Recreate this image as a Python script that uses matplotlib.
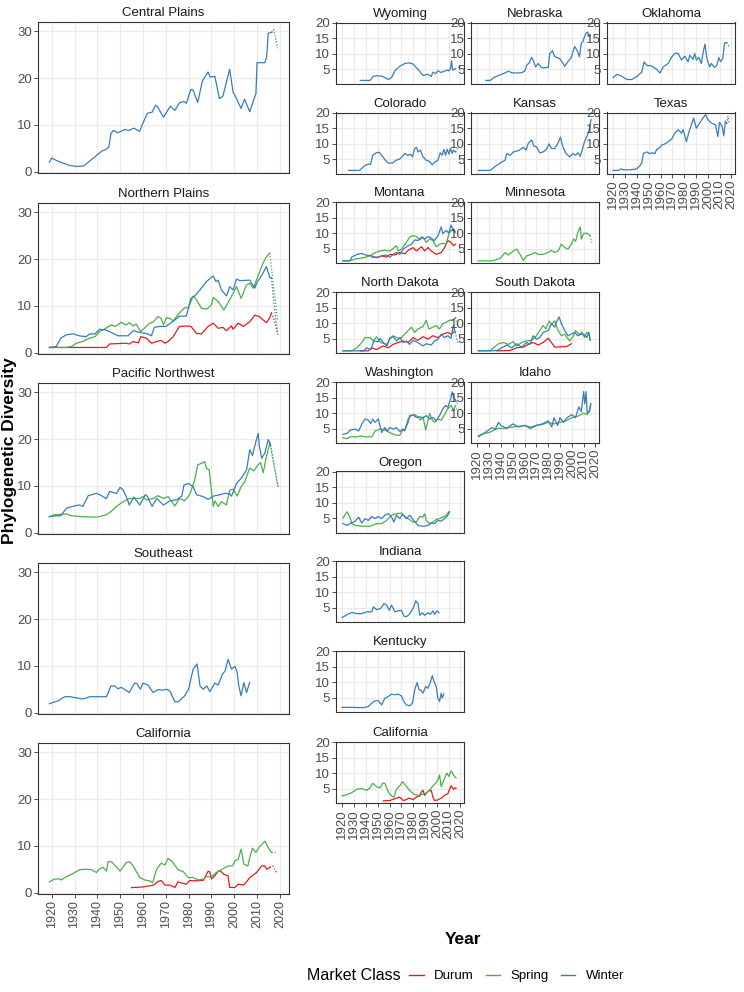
import matplotlib
matplotlib.use('Agg')
import matplotlib.pyplot as plt
from matplotlib.lines import Line2D

plt.rcParams['font.family'] = ['Liberation Sans', 'DejaVu Sans']

DURUM = '#E41A1C'
SPRING = '#4DAF4A'
WINTER = '#377EB8'
class_names = ['Durum', 'Spring', 'Winter']

# ---------------- regional panels (left column) ----------------
cp_w_yr = [1919, 1920, 1922, 1925, 1928, 1931, 1934, 1937, 1940, 1942, 1944, 1945, 1946, 1947, 1949,
           1952, 1954, 1956, 1958.5, 1960, 1962, 1964, 1965.5, 1966.5, 1969, 1972, 1974, 1976, 1978,
           1979, 1981, 1982, 1984, 1986, 1988.5, 1989.5, 1991.5, 1993.5, 1995, 1998, 1999.5, 2001,
           2003, 2004.5, 2006.8, 2009, 2009.5, 2010, 2013.4, 2014.2, 2014.9, 2016.4]
cp_w = [2.0, 2.9, 2.4, 1.8, 1.3, 1.1, 1.2, 2.4, 3.6, 4.4, 4.8, 5.2, 8.2, 8.8, 8.3, 9.0, 8.8, 9.3, 8.6,
        10.4, 12.5, 12.7, 14.2, 13.8, 11.6, 14.0, 13.1, 14.7, 15.0, 14.6, 17.6, 17.4, 14.8, 19.3, 21.3,
        20.2, 20.4, 15.6, 16.1, 21.9, 17.0, 15.6, 13.5, 15.5, 12.8, 16.0, 16.7, 23.3, 23.3, 24.5, 29.6, 29.8]
cp_w_tail_yr = [2016.4, 2017.3, 2019]
cp_w_tail = [29.8, 30.4, 26.4]

np_w_yr = [1919, 1922, 1924, 1926.4, 1929.4, 1932, 1935, 1936.7, 1939, 1941, 1944, 1947, 1949, 1953.5,
           1955.7, 1958.6, 1961.5, 1963.7, 1965, 1967.4, 1970, 1973, 1976, 1979, 1981, 1982.7, 1985,
           1987.8, 1990.8, 1992, 1993, 1994.4, 1996.6, 1998, 1999.5, 2001, 2002.5, 2006.8, 2009, 2010,
           2012, 2014.1, 2015.6, 2016.3]
np_w = [1.1, 1.3, 3.1, 3.8, 4.0, 3.6, 3.4, 4.0, 4.0, 5.0, 4.8, 4.1, 3.6, 3.6, 4.7, 4.3, 4.1, 3.6, 5.4,
        5.6, 5.6, 6.6, 7.8, 7.8, 11.6, 12.1, 13.4, 15.2, 16.4, 15.2, 15.5, 13.4, 12.1, 14.1, 13.4, 15.7,
        15.4, 15.5, 13.8, 15.0, 16.5, 18.4, 16.0, 16.0]
np_w_tail_yr = [2016.3, 2017.5, 2019.2]
np_w_tail = [16.0, 10.0, 3.5]

np_s_yr = [1919, 1926.4, 1928.6, 1930.8, 1933.7, 1936.7, 1939, 1941, 1943, 1946, 1948, 1950.5, 1952.7,
           1954, 1955.7, 1957, 1959, 1961.5, 1963, 1964.4, 1966.6, 1968, 1969, 1970.3, 1971.8, 1973.2,
           1976, 1978, 1980, 1982, 1983.5, 1985.6, 1988, 1990, 1990.8, 1993, 1995.4, 1998, 2001, 2003,
           2005.4, 2006.8, 2008.4, 2010.5, 2012.5, 2014.1, 2015.6]
np_s = [1.1, 1.1, 1.3, 2.0, 2.4, 3.1, 3.4, 4.5, 5.0, 5.9, 5.6, 6.5, 5.9, 6.4, 5.7, 6.1, 4.5, 5.6, 6.3,
        6.5, 7.7, 7.3, 5.9, 7.5, 7.3, 6.8, 8.5, 9.5, 9.7, 12.1, 11.3, 9.5, 9.3, 10.2, 11.8, 10.9, 9.1,
        11.3, 14.1, 11.6, 14.5, 14.8, 13.8, 16.5, 19.0, 20.5, 21.3]
np_s_tail_yr = [2015.6, 2017.3, 2019]
np_s_tail = [21.3, 14.0, 7.0]

np_d_yr = [1919, 1944, 1945.4, 1952.7, 1954, 1955.7, 1958, 1959, 1961.5, 1963.7, 1966, 1968, 1969.6,
           1971, 1973.2, 1976, 1979, 1981, 1983.5, 1985.6, 1988.6, 1990.8, 1993, 1995, 1996.6, 1998.8,
           1999.5, 2001.7, 2004, 2006.8, 2009, 2011, 2014.1, 2015.6, 2016.3]
np_d = [1.1, 1.1, 1.85, 2.0, 1.85, 2.35, 2.1, 3.4, 3.1, 2.0, 2.35, 2.6, 2.0, 2.35, 3.4, 5.6, 5.7, 5.6,
        4.1, 4.0, 5.6, 6.3, 5.2, 5.4, 4.7, 5.7, 5.0, 6.3, 5.6, 6.6, 8.0, 7.7, 6.4, 7.5, 8.5]
np_d_tail_yr = [2016.3, 2017.5, 2019]
np_d_tail = [8.5, 7.0, 4.0]

pnw_w_yr = [1919, 1922, 1924, 1926.4, 1930, 1932, 1933.7, 1936, 1939.6, 1941, 1944, 1945.4, 1948.4,
            1950, 1951.3, 1952.7, 1954, 1956, 1958.6, 1961, 1962, 1964, 1966, 1969, 1971.8, 1974.7,
            1977, 1978, 1980, 1982, 1983.5, 1986.4, 1988.6, 1990.8, 1993.7, 1995.9, 1998, 1998.8, 2001,
            2003, 2005.4, 2006.8, 2008, 2009.5, 2010.5, 2011, 2012, 2013.4, 2014.9, 2015.9]
pnw_w = [3.4, 3.6, 3.6, 5.2, 5.7, 5.9, 5.6, 7.9, 8.4, 8.1, 7.3, 8.8, 8.4, 9.7, 9.1, 7.7, 5.9, 7.6, 5.9,
         8.1, 7.7, 5.6, 7.3, 5.9, 6.8, 7.0, 7.8, 10.2, 10.5, 9.8, 8.1, 7.7, 7.1, 7.8, 8.1, 8.4, 8.3, 7.8,
         10.5, 11.6, 13.4, 17.7, 16.5, 19.5, 21.2, 18.5, 15.9, 17.0, 19.9, 18.8]
pnw_w_tail_yr = [2015.9, 2017.5, 2019.2]
pnw_w_tail = [18.8, 14.5, 9.8]

pnw_s_yr = [1919, 1921, 1924, 1926.4, 1928.6, 1933.7, 1939.6, 1944, 1946, 1948.4, 1951.3, 1954,
            1958.6, 1960, 1961.5, 1964.4, 1966.6, 1969, 1971, 1974, 1976, 1978.3, 1980.5, 1982.7, 1984,
            1985.6, 1987, 1987.8, 1989, 1990.8, 1991.5, 1993, 1994.4, 1996.6, 1998, 1999.5, 2001.3, 2003,
            2004.6, 2006.8, 2008.5, 2010, 2011.5, 2012.7, 2014, 2015.6]
pnw_s = [3.4, 3.8, 3.9, 4.0, 3.6, 3.4, 3.3, 3.8, 4.5, 5.6, 6.6, 7.3, 7.3, 7.7, 7.0, 7.3, 7.9, 7.3, 7.7,
         5.7, 7.3, 6.8, 8.1, 11.3, 14.5, 14.8, 15.2, 13.8, 13.4, 5.6, 6.8, 5.6, 6.6, 5.9, 9.1, 9.3, 7.8,
         9.8, 10.9, 13.8, 13.2, 14.2, 15.0, 12.8, 16.0, 19.2]
pnw_s_tail_yr = [2015.6, 2017.5, 2019.2]
pnw_s_tail = [19.2, 14.0, 9.8]

se_w_yr = [1919, 1922.8, 1925.7, 1928, 1933.7, 1936.7, 1944, 1946, 1947.6, 1949, 1950.5, 1954, 1956.3,
           1957.3, 1958.9, 1960, 1962.2, 1964.4, 1966.6, 1969, 1970.3, 1971.8, 1974, 1975.4, 1978.3,
           1980, 1982, 1983.7, 1985, 1986.4, 1988, 1989.3, 1991.5, 1993, 1994.8, 1996, 1997.3, 1998.8,
           2000.3, 2001.3, 2002, 2003, 2004.2, 2005.4, 2006.8]
se_w = [1.9, 2.5, 3.4, 3.4, 2.9, 3.4, 3.4, 5.7, 5.7, 5.1, 5.4, 4.3, 6.3, 6.2, 5.0, 6.3, 5.9, 4.3, 4.9,
        4.8, 5.0, 4.6, 2.3, 2.3, 3.6, 5.0, 9.3, 10.4, 5.7, 5.0, 5.7, 4.5, 6.3, 5.9, 8.2, 8.9, 11.4, 9.3,
        9.9, 8.6, 5.7, 3.6, 6.4, 4.3, 6.5]

cal_s_yr = [1919, 1921.3, 1923.5, 1924.2, 1926.4, 1929.4, 1932.3, 1934.5, 1937.4, 1939.6, 1941, 1942.5,
            1944, 1944.7, 1946.2, 1950, 1952.7, 1954.2, 1955.7, 1958.6, 1960.8, 1963, 1964.2, 1966, 1968,
            1969.6, 1971, 1972.5, 1975.4, 1977.6, 1980, 1982, 1984.2, 1986.4, 1987.8, 1990, 1992.2,
            1995.1, 1997.3, 1999.2, 2000.3, 2001.7, 2003, 2004.2, 2006, 2006.8, 2008, 2009.5, 2011,
            2013.5, 2015, 2016.3]
cal_s = [2.3, 2.9, 2.9, 2.7, 3.4, 4.1, 4.9, 5.0, 4.9, 4.3, 5.1, 5.4, 4.6, 6.6, 6.6, 4.6, 6.4, 6.6, 5.7,
         3.2, 2.7, 2.5, 2.1, 5.0, 6.3, 5.9, 7.3, 6.8, 4.9, 4.5, 3.2, 3.2, 2.7, 2.9, 3.4, 3.4, 4.3, 5.1,
         5.7, 5.7, 6.8, 7.1, 9.3, 6.1, 5.7, 7.5, 9.5, 8.6, 9.8, 11.0, 9.5, 8.6]
cal_s_tail_yr = [2016.3, 2018.5]
cal_s_tail = [8.6, 8.6]

cal_d_yr = [1955, 1960, 1964.7, 1966.6, 1968, 1969.6, 1971.8, 1974, 1975.4, 1977.3, 1979, 1980.5,
            1982.7, 1985, 1986.4, 1988.6, 1989.3, 1990, 1991.5, 1993, 1994, 1995.5, 1997.3, 1998, 2000.3,
            2001.7, 2004, 2005.4, 2006.8, 2009.8, 2012, 2013.4, 2014.2, 2015.6]
cal_d = [1.07, 1.2, 1.6, 2.4, 2.6, 1.6, 1.6, 1.1, 2.3, 2.0, 1.8, 2.6, 2.5, 2.6, 2.6, 4.6, 4.4, 2.9, 3.6,
         4.6, 4.6, 3.9, 3.6, 1.1, 1.1, 1.8, 1.6, 2.3, 3.2, 4.3, 5.7, 5.7, 5.0, 5.4]
cal_d_tail_yr = [2015.6, 2017, 2018.5]
cal_d_tail = [5.4, 5.7, 4.3]

# ---------------- state panels (right grid) ----------------
wy_w_yr = [1935.2, 1943.5, 1946.3, 1949.1, 1953.3, 1956.1, 1958.9, 1961.7, 1964.5, 1968.7, 1972.9,
           1976.6, 1979.9, 1984.1, 1988.3, 1992.5, 1995.3, 1996.7, 1999, 2000.9, 2003.7, 2006.5, 2008.5,
           2010.2, 2011.6, 2012.4, 2013.5, 2015.5]
wy_w = [1.3, 1.3, 2.6, 2.8, 2.7, 2.2, 1.6, 2.2, 4.4, 5.9, 6.8, 7.0, 6.6, 4.9, 2.9, 3.3, 2.6, 4.0, 3.5,
        4.4, 3.9, 4.3, 4.6, 4.4, 5.1, 7.7, 4.6, 5.1]
wy_w_tail_yr = [2015.5, 2019]
wy_w_tail = [5.1, 5.7]

ne_w_yr = [1927.3, 1931, 1933.8, 1938, 1942.1, 1946.3, 1949.1, 1953.3, 1957.5, 1960.3, 1961.7, 1964,
           1965.9, 1967.3, 1969.3, 1971.6, 1974.4, 1980, 1981.4, 1983.6, 1985.6, 1989.8, 1994, 1996.7,
           1999.6, 2002.4, 2004.3, 2006.5, 2008, 2009.4, 2010.8, 2012.2, 2013.5, 2014.4, 2015.5]
ne_w = [1.3, 1.3, 2.2, 2.9, 3.5, 4.3, 3.8, 3.7, 3.8, 4.4, 6.2, 7.0, 8.8, 7.9, 5.7, 6.8, 5.4, 5.5, 10.1,
        10.9, 9.0, 8.4, 5.9, 7.4, 8.8, 12.3, 11.2, 9.0, 13.4, 13.9, 15.6, 16.7, 17.0, 15.6, 15.8]

ok_w_yr = [1919.8, 1923.1, 1927.3, 1931.5, 1935.7, 1939.9, 1944.1, 1946.1, 1948.3, 1952.5, 1956.7,
           1959.5, 1962.3, 1966.5, 1969.3, 1972.1, 1974.9, 1977.7, 1980.5, 1983.3, 1984.7, 1987.5,
           1988.9, 1990.3, 1992.5, 1994.5, 1995.9, 1997.6, 1999.2, 2001.5, 2002.9, 2005.7, 2007.6,
           2009.3, 2010.7, 2012.7, 2014.1, 2016]
ok_w = [2.2, 3.3, 2.6, 1.6, 1.6, 2.6, 4.0, 7.3, 6.2, 6.0, 4.9, 3.7, 5.7, 6.8, 8.8, 10.1, 10.1, 7.9, 9.2,
        7.3, 9.5, 8.1, 10.1, 7.9, 8.8, 6.8, 10.1, 13.1, 8.4, 5.7, 6.8, 5.5, 6.2, 8.7, 7.4, 8.5, 13.4, 13.6]
ok_w_tail_yr = [2016, 2018]
ok_w_tail = [13.6, 12.3]

co_w_yr = [1925.4, 1934.6, 1936.5, 1939.3, 1942.1, 1944, 1945.8, 1948.6, 1951.4, 1953.3, 1956.1,
           1958.9, 1962.6, 1965.4, 1968.2, 1971, 1972.9, 1975.7, 1977.7, 1979.4, 1981.3, 1982.7, 1984.1,
           1986.1, 1988.3, 1991.1, 1993.9, 1996.2, 1998.1, 2000.9, 2002.9, 2004.6, 2006, 2007.4, 2008.8,
           2010.2, 2011.6, 2013, 2014.1, 2015.8]
co_w = [1.3, 1.3, 2.0, 2.9, 3.3, 3.3, 6.2, 7.0, 7.2, 6.2, 4.8, 3.7, 3.7, 4.6, 4.9, 5.9, 6.8, 6.2, 6.6,
        5.7, 8.4, 8.8, 7.3, 7.9, 5.7, 4.6, 4.2, 3.1, 4.0, 4.6, 7.0, 6.2, 8.1, 6.2, 8.2, 6.6, 8.4, 6.8,
        7.9, 7.3]
co_w_tail_yr = [2015.8, 2018.6]
co_w_tail = [7.3, 9.0]

ks_w_yr = [1921, 1931, 1935.2, 1939.4, 1943.5, 1945, 1947.7, 1950.5, 1954.8, 1959, 1961.2, 1963.2,
           1966, 1968, 1970.1, 1972.9, 1975.7, 1978.5, 1980.8, 1982.8, 1985.6, 1988.4, 1990.4, 1992,
           1994.9, 1998.2, 2001, 2003.2, 2005.1, 2007.1, 2008.8, 2010.7, 2012.7, 2014.4, 2016.3]
ks_w = [1.3, 1.3, 2.6, 3.7, 4.6, 6.8, 6.2, 7.3, 7.7, 8.8, 7.9, 10.1, 11.2, 9.2, 9.0, 7.0, 7.3, 8.1, 9.9,
        8.4, 8.4, 10.3, 12.1, 9.5, 6.8, 5.7, 6.8, 6.2, 7.0, 5.9, 7.9, 10.6, 12.3, 13.9, 17.8]

tx_w_yr = [1919.8, 1924.5, 1926.5, 1928.2, 1934.3, 1939.9, 1942.7, 1944.1, 1945.5, 1948.3, 1950.5,
           1953.3, 1955.3, 1956.7, 1959.5, 1960.9, 1963.7, 1966.5, 1969.3, 1972.1, 1974.9, 1977.7,
           1979.1, 1981.9, 1984.1, 1986.1, 1988, 1990.3, 1993.1, 1995.9, 1998.1, 2000.1, 2002.9, 2006.5,
           2008.5, 2009.9, 2012.1, 2013.5, 2014.9, 2016]
tx_w = [1.3, 1.3, 1.8, 1.5, 1.5, 1.8, 2.9, 3.7, 6.8, 7.3, 6.8, 7.0, 6.8, 8.1, 8.7, 9.5, 9.9, 10.6, 11.4,
        13.4, 14.5, 13.4, 14.5, 10.6, 13.9, 16.1, 18.3, 15.0, 16.7, 18.3, 19.4, 17.8, 16.7, 16.1, 12.3,
        16.9, 15.6, 12.5, 17.3, 16.5]
tx_w_tail_yr = [2016, 2017, 2018]
tx_w_tail = [16.5, 18.9, 16.5]

mt_w_yr = [1920.6, 1926.8, 1928, 1932.4, 1936.5, 1940.7, 1945, 1949, 1953.3, 1957.5, 1960.3, 1963,
           1966, 1968.7, 1971.5, 1975.7, 1978.5, 1981.3, 1984, 1987, 1989.7, 1992.5, 1995.3, 1998, 2001,
           2003.7, 2005, 2008, 2010.2, 2012, 2013.5, 2015]
mt_w = [1.0, 1.0, 2.2, 3.1, 3.4, 2.8, 2.6, 2.0, 2.6, 2.9, 2.2, 3.1, 3.7, 3.1, 4.8, 5.9, 6.4, 7.8, 7.6,
        8.7, 8.1, 8.9, 8.4, 7.6, 9.2, 12.0, 9.8, 10.9, 10.0, 12.6, 11.4, 10.3]

mt_s_yr = [1920.6, 1926.8, 1932.4, 1938, 1943.5, 1947.7, 1952, 1956, 1960.3, 1966, 1967.3, 1970,
           1974.3, 1977, 1980, 1982.7, 1985.5, 1988.3, 1991, 1994, 1996.7, 1999.5, 2002.3, 2005, 2008,
           2010.2, 2012, 2014, 2015.8]
mt_s = [1.0, 1.1, 1.7, 2.0, 2.6, 3.7, 4.2, 4.4, 4.2, 5.9, 4.2, 4.8, 7.0, 8.7, 9.2, 8.9, 7.8, 8.7, 7.0,
        8.1, 7.6, 5.6, 6.4, 6.7, 6.4, 9.8, 10.7, 11.4, 10.3]

mt_d_yr = [1945, 1950.5, 1953.3, 1957.5, 1960.3, 1964.5, 1968.7, 1972.9, 1975.7, 1980, 1982.7, 1987,
           1989.7, 1992.5, 1995.3, 1999.5, 2003.7, 2006.5, 2009.3, 2012, 2014, 2015.8]
mt_d = [2.2, 2.2, 2.6, 2.2, 3.1, 2.9, 3.7, 3.3, 4.4, 5.3, 4.2, 5.6, 4.2, 5.3, 4.2, 3.1, 3.7, 5.3, 7.6,
        7.0, 5.9, 6.4]

mn_s_yr = [1921, 1931, 1933.8, 1939.4, 1943.5, 1946.3, 1950.5, 1953.3, 1956.2, 1959, 1961.7, 1965.9,
           1968.7, 1971.6, 1975.7, 1980, 1982.7, 1985.6, 1988.4, 1991.2, 1994, 1996.8, 1999.6, 2001.5,
           2003.2, 2005.1, 2007.1, 2008, 2010, 2011.6, 2013.5, 2015.5]
mn_s = [1.0, 1.0, 1.1, 1.8, 3.7, 2.9, 4.2, 4.8, 3.1, 1.1, 2.6, 3.1, 3.7, 3.1, 3.1, 3.7, 4.4, 3.7, 4.2,
        6.4, 5.3, 4.8, 6.4, 8.1, 7.3, 10.3, 12.0, 8.1, 9.8, 10.0, 9.8, 9.2]
mn_s_tail_yr = [2015.5, 2017.2]
mn_s_tail = [9.2, 6.4]

nd_s_yr = [1920.6, 1928, 1932.4, 1936.5, 1939.3, 1943.5, 1946.3, 1949, 1952.5, 1957.5, 1960.3, 1963,
           1967.3, 1970, 1974.3, 1978.5, 1981.3, 1984, 1988.3, 1991, 1993.4, 1996.7, 1999.5, 2002.3,
           2005, 2008, 2010.7, 2014, 2015.8]
nd_s = [1.0, 1.0, 2.0, 3.7, 5.3, 5.3, 4.2, 5.6, 3.7, 3.1, 4.8, 5.9, 5.1, 5.3, 7.0, 8.7, 7.0, 8.1, 8.9,
        10.9, 8.1, 8.7, 9.2, 8.1, 9.8, 10.3, 10.9, 11.1, 11.8]
nd_s_tail_yr = [2015.8, 2017.7]
nd_s_tail = [11.8, 8.7]

nd_d_yr = [1935, 1942, 1945, 1949, 1954.7, 1959, 1963, 1967.3, 1971.5, 1975.7, 1980, 1984, 1988.3,
           1992.5, 1996.7, 2001, 2005, 2009.3, 2012, 2015]
nd_d = [1.0, 1.0, 2.0, 1.4, 2.6, 2.0, 3.1, 3.7, 4.2, 3.7, 5.3, 4.4, 5.6, 4.8, 5.9, 5.3, 6.4, 7.0, 6.4,
        7.3]

nd_w_yr = [1920.6, 1938, 1940.7, 1944, 1946.8, 1950.5, 1952, 1954.7, 1958, 1960.3, 1963, 1966, 1968.7,
           1971.5, 1974.3, 1977, 1980, 1984, 1988.3, 1991, 1995.3, 1998, 2001, 2003.7, 2006.5, 2009.3,
           2012, 2014, 2015.5]
nd_w = [1.0, 1.0, 2.0, 1.4, 4.2, 4.0, 5.1, 3.7, 2.6, 5.3, 5.6, 4.2, 5.3, 3.7, 4.2, 3.1, 4.4, 3.7, 2.6,
        3.3, 2.9, 4.2, 4.8, 6.4, 5.3, 5.9, 5.1, 9.2, 7.0]
nd_w_tail_yr = [2015.5, 2017.7]
nd_w_tail = [7.0, 3.7]

sd_s_yr = [1921, 1931, 1933.8, 1938, 1942.1, 1946.3, 1950.5, 1953.3, 1957.5, 1961.7, 1965.9, 1970.1,
           1972.9, 1975.7, 1978, 1980.8, 1982.8, 1985.6, 1988.4, 1991.2, 1994, 1998.2, 2001, 2003.2,
           2006, 2008.8, 2010.7, 2012.7, 2014.4, 2015.5]
sd_s = [1.0, 1.1, 2.0, 3.3, 3.7, 3.1, 4.0, 2.6, 3.7, 4.2, 4.4, 5.9, 7.6, 9.2, 8.1, 10.7, 9.6, 10.7, 7.6,
        5.9, 6.4, 4.2, 5.6, 7.6, 6.4, 7.0, 5.3, 7.0, 6.7, 4.8]

sd_w_yr = [1921, 1931, 1936.6, 1940.8, 1945, 1949.2, 1953.3, 1957.5, 1961.7, 1964.5, 1967.3, 1970.1,
           1972.9, 1975.7, 1980, 1982.8, 1985.6, 1987, 1989.2, 1991.2, 1994, 1996.8, 1999.6, 2002.4,
           2005.1, 2008, 2010.7, 2012.7, 2014.4, 2015.5]
sd_w = [1.0, 1.0, 1.1, 2.0, 2.9, 2.0, 3.3, 2.2, 3.7, 3.1, 5.9, 4.8, 5.3, 7.0, 7.6, 9.8, 8.7, 10.3, 12.0,
        9.8, 7.6, 5.9, 6.4, 7.0, 5.9, 6.4, 6.2, 5.3, 7.0, 4.4]

sd_d_yr = [1936.6, 1947.8, 1953.3, 1959, 1963.1, 1967.3, 1971.6, 1975.7, 1980, 1982.8, 1985.6, 1991.2,
           1995.7, 1999.6]
sd_d = [1.0, 1.1, 2.0, 2.2, 3.1, 3.7, 2.9, 3.7, 5.1, 3.7, 2.2, 2.3, 2.4, 3.3]

wa_w_yr = [1920.6, 1924, 1926.8, 1931, 1933.8, 1936.5, 1939.3, 1942.1, 1944, 1945.8, 1947.7, 1950.5,
           1953.3, 1956.1, 1958.1, 1960.3, 1963.1, 1965.9, 1968.7, 1971, 1972.9, 1975.7, 1977.1, 1979.9,
           1982.7, 1985.5, 1988.3, 1991.1, 1993.9, 1996.7, 1999.5, 2002.3, 2005.1, 2007.4, 2009.3,
           2011.3, 2013, 2014.1, 2015.8]
wa_w = [3.1, 3.4, 4.5, 4.8, 4.2, 6.4, 8.1, 7.7, 6.6, 8.1, 7.0, 8.1, 3.7, 5.3, 4.2, 5.3, 4.8, 5.3, 4.0,
        4.8, 4.5, 7.0, 9.2, 9.4, 8.6, 8.8, 8.4, 9.2, 8.1, 8.6, 7.5, 9.2, 11.4, 12.5, 11.9, 14.1, 16.9,
        15.2, 14.3]
wa_w_tail_yr = [2015.8, 2017.7]
wa_w_tail = [14.3, 13.0]

wa_s_yr = [1920.6, 1924, 1926.8, 1932.4, 1935.2, 1939.3, 1945, 1947.7, 1951.9, 1954.7, 1957.5, 1961.7,
           1965.9, 1968.7, 1971, 1972.9, 1975.7, 1978.5, 1981.3, 1984.1, 1986.1, 1988.3, 1990.6, 1992.5,
           1993.9, 1996.2, 1998.1, 2000.9, 2003.7, 2006.5, 2009.3, 2012.1, 2014.1, 2015.8]
wa_s = [2.0, 1.7, 2.3, 2.3, 2.6, 2.3, 2.3, 4.2, 4.8, 4.8, 4.2, 3.4, 2.8, 2.8, 4.5, 4.2, 8.1, 9.2, 9.5,
        8.8, 7.7, 8.8, 4.5, 7.5, 9.9, 7.7, 7.0, 8.1, 7.7, 9.5, 11.4, 12.5, 10.8, 12.5]
wa_s_tail_yr = [2015.8, 2017.7]
wa_s_tail = [12.5, 10.3]

id_w_yr = [1921, 1925.4, 1929.6, 1932, 1935.2, 1938, 1940, 1945, 1950, 1955, 1960, 1965, 1970, 1975,
           1980, 1983, 1985, 1988, 1990, 1993, 1996, 2000, 2003, 2006, 2008, 2010, 2011, 2012, 2013,
           2015, 2016]
id_w = [2.6, 3.4, 4.5, 5.3, 4.8, 7.0, 6.0, 5.0, 6.5, 5.5, 6.0, 5.0, 6.0, 6.5, 7.5, 5.5, 8.5, 6.0, 8.5,
        7.0, 8.5, 9.5, 8.5, 12.0, 10.5, 17.0, 13.0, 17.0, 10.0, 10.5, 13.0]

id_s_yr = [1921, 1925.4, 1930, 1938, 1940, 1945, 1950, 1955, 1960, 1965, 1970, 1975, 1980, 1985, 1990,
           1995, 2000, 2005, 2010, 2013, 2015, 2016]
id_s = [2.3, 3.4, 3.7, 5.1, 5.0, 5.2, 5.5, 5.7, 6.0, 5.5, 6.0, 6.3, 7.0, 6.5, 7.0, 7.5, 8.5, 9.0, 10.0,
        9.5, 11.0, 13.0]

or_s_yr = [1920.6, 1924, 1926.2, 1928.2, 1931, 1938, 1943.5, 1949.1, 1953.3, 1957.5, 1961.7, 1965.9,
           1970.1, 1972.9, 1975.7, 1979.9, 1982.7, 1985.5, 1988.3, 1989.7, 1991.1, 1993.9, 1996.7,
           1999.5, 2002.3, 2005.1, 2007.9, 2010.2]
or_s = [5.0, 7.0, 5.5, 3.2, 2.6, 2.3, 2.3, 3.2, 3.2, 4.2, 5.9, 6.4, 6.6, 5.5, 4.8, 3.7, 3.7, 5.5, 5.3,
        6.4, 4.2, 3.2, 3.7, 4.5, 4.8, 5.3, 5.9, 7.0]

or_w_yr = [1920.6, 1924, 1926.8, 1931, 1933.8, 1936.5, 1939.3, 1942.1, 1945, 1947.7, 1950.5, 1953.3,
           1956.1, 1958.9, 1961.7, 1963.7, 1965.9, 1968.7, 1971, 1974.3, 1977.1, 1980.5, 1984.1, 1988.3,
           1992.5, 1995.3, 1998.1, 2000.9, 2003.7, 2006.5, 2009.3, 2010.7]
or_w = [3.2, 2.6, 3.2, 4.0, 5.3, 3.4, 4.8, 4.2, 5.5, 4.8, 5.5, 4.8, 5.9, 6.4, 5.3, 3.7, 5.9, 4.8, 6.2,
        4.8, 5.9, 4.2, 2.6, 2.3, 2.6, 3.4, 3.2, 4.2, 4.0, 4.8, 5.9, 7.0]

in_w_yr = [1919.8, 1924, 1928.2, 1932.4, 1936.5, 1940.7, 1945, 1946.3, 1949.1, 1952.5, 1955.3, 1957.5,
           1959.8, 1961.7, 1964.5, 1967.3, 1970.1, 1972.1, 1974.3, 1977.1, 1979.9, 1982.2, 1984.1,
           1985.5, 1987.8, 1989.7, 1992.5, 1994.5, 1996.7, 1998.1, 2000.1, 2001.8]
in_w = [1.7, 2.7, 3.4, 3.0, 3.0, 3.6, 3.6, 5.2, 4.3, 4.7, 6.3, 5.8, 4.1, 5.8, 3.6, 3.9, 4.1, 2.2, 2.0,
        3.0, 4.7, 7.2, 6.3, 2.5, 3.3, 2.5, 3.3, 2.8, 3.9, 2.8, 3.9, 3.3]

ky_w_yr = [1919.8, 1926.8, 1938, 1942.1, 1945, 1947.7, 1950.5, 1953.3, 1956.1, 1958.9, 1961.7, 1964.5,
           1967.3, 1970.1, 1972.1, 1974.3, 1977.1, 1979.4, 1981.3, 1983.3, 1985, 1986.9, 1988.3, 1990.6,
           1992.5, 1994.5, 1996.2, 1997.6, 1999.5, 2000.9, 2002.3, 2003.7, 2004.6, 2006]
ky_w = [1.8, 1.8, 1.7, 2.1, 3.2, 3.9, 4.0, 2.6, 4.8, 5.3, 6.1, 5.9, 6.1, 5.5, 3.7, 2.6, 2.3, 3.2, 7.5,
        9.9, 7.5, 7.3, 6.4, 8.6, 8.0, 9.9, 12.1, 10.2, 8.6, 4.8, 3.7, 6.4, 4.8, 6.2]

ca_s_yr = [1919.8, 1924, 1928.2, 1932.4, 1936.5, 1940.7, 1943.5, 1945.8, 1949.1, 1951.9, 1954.2,
           1956.1, 1958.9, 1961.7, 1963.7, 1965.9, 1968.7, 1971, 1972.9, 1975.7, 1978.5, 1981.3, 1984.1,
           1986.9, 1989.7, 1992.5, 1996.2, 1999, 2000.9, 2002.3, 2003.7, 2006.5, 2008.5, 2010.2, 2012.1,
           2014.1, 2015.8]
ca_s = [2.6, 3.0, 3.7, 4.8, 5.0, 4.4, 5.2, 6.7, 5.6, 5.2, 6.7, 6.7, 3.9, 2.6, 2.2, 4.8, 5.9, 7.2, 6.3,
        5.0, 3.9, 3.0, 2.8, 3.0, 3.3, 3.9, 5.6, 6.7, 7.8, 9.4, 5.6, 8.3, 10.0, 8.9, 10.8, 9.4, 8.6]
ca_s_tail_yr = [2015.8, 2017.7]
ca_s_tail = [8.6, 8.3]

ca_d_yr = [1954.7, 1960.3, 1965.9, 1968.7, 1971.5, 1974.3, 1976.6, 1979.9, 1982.7, 1985.5, 1986.9,
           1988.3, 1989.7, 1992.5, 1995.3, 1996.7, 1998.1, 2000.9, 2003.7, 2006.5, 2009.3, 2012.1,
           2014.1, 2015.8]
ca_d = [1.0, 1.1, 1.9, 2.2, 1.1, 1.4, 1.9, 1.4, 2.2, 2.6, 3.9, 4.4, 2.8, 4.1, 4.4, 2.2, 1.1, 1.3, 1.9,
        2.8, 3.3, 5.9, 4.8, 5.2]
ca_d_tail_yr = [2015.8, 2017.7]
ca_d_tail = [5.2, 4.8]

# ---------------- layout ----------------
W, H = 744, 992
fig = plt.figure(figsize=(W / 100, H / 100), dpi=100)

decades = list(range(1920, 2021, 10))


def panel(x0, y0, w, h):
    return fig.add_axes([x0 / W, 1 - (y0 + h) / H, w / W, h / H])


def draw(ax, title, series, big, xlabels):
    for s in series:
        ax.plot(s[0], s[1], color=s[2], lw=0.9)
        if len(s) > 3:
            ax.plot(s[3], s[4], color=s[2], lw=0.9, ls=(0, (1, 1.5)))
    if big:
        ax.set_xlim(1914, 2024)
        ax.set_ylim(-0.3, 32)
        ax.set_yticks([0, 10, 20, 30])
    else:
        ax.set_xlim(1914.7, 2023)
        ax.set_ylim(0.3, 20.1)
        ax.set_yticks([5, 10, 15, 20])
    ax.set_xticks(decades)
    ax.grid(True, color='#ebebeb', lw=0.9)
    ax.set_axisbelow(True)
    for sp in ax.spines.values():
        sp.set_color('#333333')
        sp.set_linewidth(0.8)
    ax.tick_params(length=2.8, width=0.6, color='#333333', labelcolor='#4d4d4d',
                   labelsize=9.5, pad=1.5)
    if xlabels:
        ax.set_xticklabels([str(d) for d in decades], rotation=90,
                           fontsize=9 if big else 9.5)
    else:
        ax.tick_params(axis='x', bottom=False, labelbottom=False)
    ax.set_title(title, fontsize=9.5, pad=4, color='#1a1a1a')


# left column: regions
left_panels = [
    ('Central Plains', [(cp_w_yr, cp_w, WINTER, cp_w_tail_yr, cp_w_tail)]),
    ('Northern Plains', [(np_d_yr, np_d, DURUM, np_d_tail_yr, np_d_tail),
                         (np_s_yr, np_s, SPRING, np_s_tail_yr, np_s_tail),
                         (np_w_yr, np_w, WINTER, np_w_tail_yr, np_w_tail)]),
    ('Pacific Northwest', [(pnw_s_yr, pnw_s, SPRING, pnw_s_tail_yr, pnw_s_tail),
                           (pnw_w_yr, pnw_w, WINTER, pnw_w_tail_yr, pnw_w_tail)]),
    ('Southeast', [(se_w_yr, se_w, WINTER)]),
    ('California', [(cal_d_yr, cal_d, DURUM, cal_d_tail_yr, cal_d_tail),
                    (cal_s_yr, cal_s, SPRING, cal_s_tail_yr, cal_s_tail)]),
]
left_tops = [22, 203, 383, 563, 743]
for i, (name, ser) in enumerate(left_panels):
    ax = panel(38, left_tops[i], 251, 151)
    draw(ax, name, ser, True, i == len(left_panels) - 1)

# right grid: states (row, col)
col_x = [336, 471, 607]
row_y = [22.5, 112.5, 202, 292, 382, 471.5, 561, 651, 742]
state_panels = [
    ('Wyoming', 0, 0, False, [(wy_w_yr, wy_w, WINTER, wy_w_tail_yr, wy_w_tail)]),
    ('Nebraska', 0, 1, False, [(ne_w_yr, ne_w, WINTER)]),
    ('Oklahoma', 0, 2, False, [(ok_w_yr, ok_w, WINTER, ok_w_tail_yr, ok_w_tail)]),
    ('Colorado', 1, 0, False, [(co_w_yr, co_w, WINTER, co_w_tail_yr, co_w_tail)]),
    ('Kansas', 1, 1, False, [(ks_w_yr, ks_w, WINTER)]),
    ('Texas', 1, 2, True, [(tx_w_yr, tx_w, WINTER, tx_w_tail_yr, tx_w_tail)]),
    ('Montana', 2, 0, False, [(mt_d_yr, mt_d, DURUM), (mt_s_yr, mt_s, SPRING), (mt_w_yr, mt_w, WINTER)]),
    ('Minnesota', 2, 1, False, [(mn_s_yr, mn_s, SPRING, mn_s_tail_yr, mn_s_tail)]),
    ('North Dakota', 3, 0, False, [(nd_d_yr, nd_d, DURUM),
                                   (nd_s_yr, nd_s, SPRING, nd_s_tail_yr, nd_s_tail),
                                   (nd_w_yr, nd_w, WINTER, nd_w_tail_yr, nd_w_tail)]),
    ('South Dakota', 3, 1, False, [(sd_d_yr, sd_d, DURUM), (sd_s_yr, sd_s, SPRING), (sd_w_yr, sd_w, WINTER)]),
    ('Washington', 4, 0, False, [(wa_s_yr, wa_s, SPRING, wa_s_tail_yr, wa_s_tail),
                                 (wa_w_yr, wa_w, WINTER, wa_w_tail_yr, wa_w_tail)]),
    ('Idaho', 4, 1, True, [(id_s_yr, id_s, SPRING), (id_w_yr, id_w, WINTER)]),
    ('Oregon', 5, 0, False, [(or_s_yr, or_s, SPRING), (or_w_yr, or_w, WINTER)]),
    ('Indiana', 6, 0, False, [(in_w_yr, in_w, WINTER)]),
    ('Kentucky', 7, 0, False, [(ky_w_yr, ky_w, WINTER)]),
    ('California', 8, 0, True, [(ca_d_yr, ca_d, DURUM, ca_d_tail_yr, ca_d_tail),
                                (ca_s_yr, ca_s, SPRING, ca_s_tail_yr, ca_s_tail)]),
]
for name, r, c, xl, ser in state_panels:
    ax = panel(col_x[c], row_y[r], 128, 61)
    draw(ax, name, ser, False, xl)

# shared axis titles
fig.text(10 / W, 1 - 451 / H, 'Phylogenetic Diversity', rotation=90, ha='center', va='center',
         fontsize=12.5, fontweight='bold')
fig.text(463 / W, 1 - 939 / H, 'Year', ha='center', va='center', fontsize=12.5, fontweight='bold')

# legend
fig.text(307 / W, 1 - 976 / H, 'Market Class', ha='left', va='center', fontsize=11.5)
handles = [Line2D([], [], color=c, lw=1.0) for c in (DURUM, SPRING, WINTER)]
fig.legend(handles, class_names, loc='center left', bbox_to_anchor=(409 / W, 1 - 976 / H),
           ncol=3, frameon=False, fontsize=9.5, handlelength=1.1, handletextpad=0.8,
           columnspacing=0.9, borderpad=0, borderaxespad=0)

fig.savefig('out.png', dpi=100)
